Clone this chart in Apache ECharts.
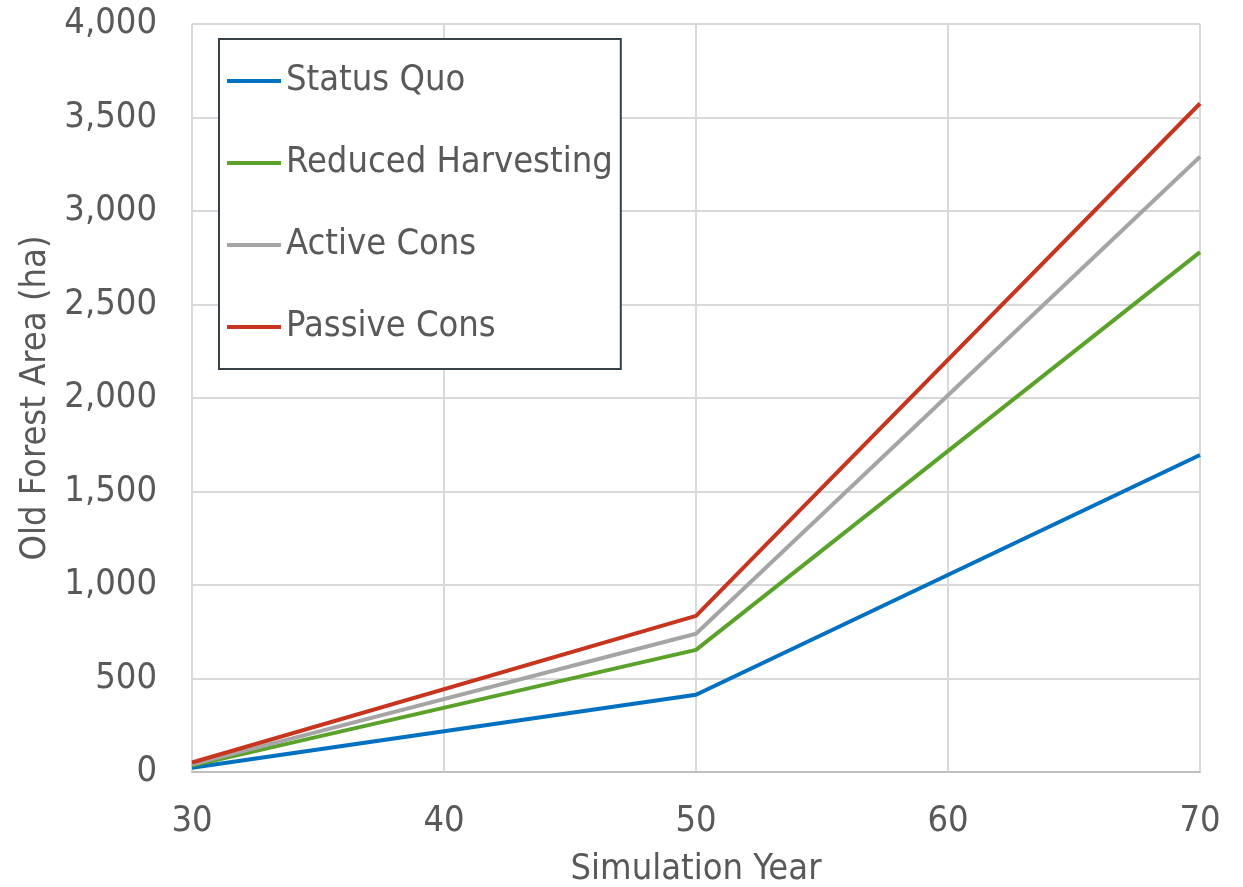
<!DOCTYPE html>
<html>
<head>
<meta charset="utf-8">
<script src="https://cdn.jsdelivr.net/npm/echarts@6/dist/echarts.min.js"></script>
<style>
  html, body { margin: 0; padding: 0; background: #fff; }
  #chart { width: 1243px; height: 887px; }
</style>
</head>
<body>
<div id="chart"></div>
<script>
// 模拟年份
const years = [30, 50, 70]
const seriesNames = ['Status Quo', 'Reduced Harvesting', 'Active Cons', 'Passive Cons']
const statusQuo = [23, 413, 1695]
const reducedHarvesting = [34, 653, 2780]
const activeCons = [41, 739, 3290]
const passiveCons = [51, 835, 3575]
const colors = ['#0070c0', '#5aa22a', '#a5a5a5', '#c8351f']

const font = '"DejaVu Sans Condensed", "DejaVu Sans", sans-serif'
const textColor = '#595959'

const chart = echarts.init(document.getElementById('chart'))

const toPairs = arr => arr.map((v, i) => [years[i], v])
const values = [statusQuo, reducedHarvesting, activeCons, passiveCons]

const option = {
  animation: false,
  grid: { left: 192, right: 43, top: 24, bottom: 115, outerBoundsMode: 'none', containLabel: false },
  legend: {
    orient: 'vertical',
    left: 219,
    top: 39,
    padding: [22, 8, 22, 8],
    itemGap: 42,
    itemWidth: 54,
    itemHeight: 4,
    icon: 'rect',
    backgroundColor: '#fff',
    borderColor: '#37414a',
    borderWidth: 2,
    borderRadius: 0,
    textStyle: { fontFamily: font, fontSize: 36, color: textColor, lineHeight: 40 },
    data: seriesNames
  },
  xAxis: {
    type: 'value',
    min: 30,
    max: 70,
    interval: 10,
    name: 'Simulation Year',
    nameLocation: 'middle',
    nameGap: 80,
    nameTextStyle: { fontFamily: font, fontSize: 36, color: textColor },
    axisLine: { show: true, lineStyle: { color: '#bfbfbf', width: 2 } },
    axisTick: { show: false },
    axisLabel: { margin: 32, fontFamily: font, fontSize: 36, color: textColor },
    splitLine: { show: true, lineStyle: { color: '#d9d9d9', width: 2 } }
  },
  yAxis: {
    type: 'value',
    min: 0,
    max: 4000,
    interval: 500,
    name: 'Old Forest Area (ha)',
    nameLocation: 'middle',
    nameGap: 128,
    nameTextStyle: { fontFamily: font, fontSize: 36, color: textColor },
    axisLine: { show: false },
    axisTick: { show: false },
    axisLabel: {
      margin: 35,
      fontFamily: font,
      fontSize: 36,
      color: textColor,
      formatter: v => v.toLocaleString('en-US')
    },
    splitLine: { show: true, lineStyle: { color: '#d9d9d9', width: 2 } }
  },
  series: seriesNames.map((name, i) => ({
    name,
    type: 'line',
    data: toPairs(values[i]),
    symbol: 'none',
    color: colors[i],
    lineStyle: { width: 4, color: colors[i] }
  }))
}

chart.setOption(option)
</script>
</body>
</html>
